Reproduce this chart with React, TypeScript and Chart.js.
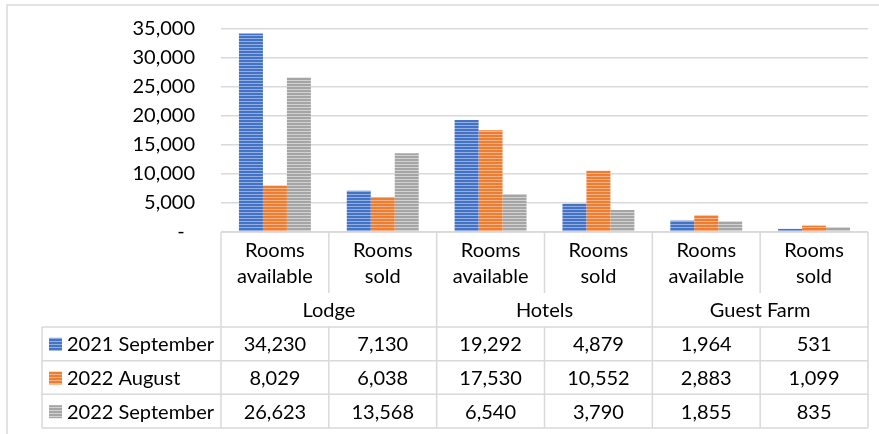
import React, { useEffect, useRef } from "react";
import { Chart, registerables } from "chart.js";

Chart.register(...registerables);

// ---- data ----
const categories: string[][] = [
  ["Rooms", "available"],
  ["Rooms", "sold"],
  ["Rooms", "available"],
  ["Rooms", "sold"],
  ["Rooms", "available"],
  ["Rooms", "sold"],
];
const groups = ["Lodge", "Hotels", "Guest Farm"];
const seriesNames = ["2021 September", "2022 August", "2022 September"];
const sep2021 = [34230, 7130, 19292, 4879, 1964, 531];
const aug2022 = [8029, 6038, 17530, 10552, 2883, 1099];
const sep2022 = [26623, 13568, 6540, 3790, 1855, 835];
const yMin = 0;
const yMax = 35000;
const yStep = 5000;

// ---- styles ----
const baseColors = ["#4472C4", "#ED7D31", "#A5A5A5"];
const lightColors = ["#93AEE0", "#F6B38A", "#D2D2D2"];
const FONT = "Lato, 'Noto Sans', sans-serif";
const FONT_SIZE = 20;
const LINE = "#D9D9D9";

function makePattern(base: string, light: string): CanvasPattern | string {
  const c = document.createElement("canvas");
  c.width = 4;
  c.height = 3;
  const g = c.getContext("2d");
  if (!g) return base;
  g.fillStyle = base;
  g.fillRect(0, 0, 4, 3);
  g.fillStyle = light;
  g.fillRect(0, 2, 4, 1);
  const p = g.createPattern(c, "repeat");
  return p || base;
}

const fmt = (v: number) => v.toLocaleString("en-US");

const tablePlugin = {
  id: "dataTable",
  afterDraw(chart: any) {
    const { ctx, chartArea } = chart;
    const xs = chart.scales.x;
    const labels = chart.data.labels as string[][];
    const n = labels.length;
    const half = (xs.getPixelForValue(1) - xs.getPixelForValue(0)) / 2;
    const left = chartArea.left;
    const right = chartArea.right;
    const top = chartArea.bottom;
    const catBottom = 293;
    const grpBottom = 327;
    const rowH = (428 - grpBottom) / 3;
    const tableLeft = 42;
    const tableBottom = grpBottom + rowH * 3;
    const perGroup = n / groups.length;

    ctx.save();
    // outer frame
    ctx.strokeStyle = LINE;
    ctx.lineWidth = 1.5;
    ctx.beginPath();
    ctx.moveTo(7, chart.height);
    ctx.lineTo(7, 5);
    ctx.lineTo(chart.width, 5);
    ctx.stroke();

    // table lines
    ctx.beginPath();
    ctx.moveTo(left, top);
    ctx.lineTo(right, top);
    for (let r = 0; r <= 3; r++) {
      const y = grpBottom + r * rowH;
      ctx.moveTo(tableLeft, y);
      ctx.lineTo(right, y);
    }
    ctx.moveTo(left, top);
    ctx.lineTo(left, tableBottom);
    ctx.moveTo(tableLeft, grpBottom);
    ctx.lineTo(tableLeft, tableBottom);
    for (let i = 1; i <= n; i++) {
      const bx = xs.getPixelForValue(i - 1) + half;
      const isGroupEdge = i % perGroup === 0;
      ctx.moveTo(bx, top);
      if (isGroupEdge) {
        ctx.lineTo(bx, tableBottom);
      } else {
        ctx.lineTo(bx, catBottom);
        ctx.moveTo(bx, grpBottom);
        ctx.lineTo(bx, tableBottom);
      }
    }
    ctx.stroke();

    // texts
    ctx.fillStyle = "#000";
    ctx.font = `${FONT_SIZE}px ${FONT}`;
    ctx.textAlign = "center";
    ctx.textBaseline = "middle";
    for (let i = 0; i < n; i++) {
      const cx = xs.getPixelForValue(i);
      const lines = labels[i];
      lines.forEach((t, k) => ctx.fillText(t, cx, 251 + k * 26));
    }
    groups.forEach((g, gi) => {
      const x0 = xs.getPixelForValue(gi * perGroup) - half;
      const x1 = xs.getPixelForValue(gi * perGroup + perGroup - 1) + half;
      ctx.fillText(g, (x0 + x1) / 2, 311);
    });
    chart.data.datasets.forEach((ds: any, r: number) => {
      const cy = grpBottom + rowH * r + rowH / 2 + 1;
      ds.data.forEach((v: number, i: number) => {
        ctx.textAlign = "center";
        ctx.fillText(fmt(v), xs.getPixelForValue(i), cy);
      });
      ctx.fillStyle = ds.backgroundColor;
      ctx.fillRect(49, cy - 7, 13, 13);
      ctx.fillStyle = "#000";
      ctx.textAlign = "left";
      ctx.fillText(ds.label, 67, cy);
    });
    ctx.restore();
  },
};

export default function App() {
  const ref = useRef<HTMLCanvasElement | null>(null);
  useEffect(() => {
    document.body.style.margin = "0";
    if (!ref.current) return;
    const series = [sep2021, aug2022, sep2022];
    const chart = new Chart(ref.current, {
      type: "bar",
      data: {
        labels: categories,
        datasets: series.map((d, i) => ({
          label: seriesNames[i],
          data: d,
          backgroundColor: makePattern(baseColors[i], lightColors[i]) as any,
          borderWidth: 0,
          categoryPercentage: 0.667,
          barPercentage: 1,
        })),
      },
      options: {
        animation: false,
        responsive: false,
        layout: { padding: { left: 0, top: 29, right: 11, bottom: 202 } },
        plugins: { legend: { display: false }, tooltip: { enabled: false } },
        scales: {
          x: { display: false },
          y: {
            min: yMin,
            max: yMax,
            afterFit: (s: any) => {
              s.width = 221;
              s.paddingTop = 0;
              s.paddingBottom = 0;
            },
            ticks: {
              stepSize: yStep,
              padding: 26,
              color: "#000",
              font: { family: FONT, size: FONT_SIZE },
              callback: (v: any) => (Number(v) === 0 ? "-  " : fmt(Number(v))),
            },
            grid: { color: LINE, lineWidth: 1.5, drawTicks: false },
            border: { display: false },
          },
        },
      },
      plugins: [tablePlugin],
    });
    return () => chart.destroy();
  }, []);
  return (
    <div style={{ width: 879, height: 434, background: "#fff" }}>
      <canvas ref={ref} width={879} height={434} style={{ display: "block" }} />
    </div>
  );
}
